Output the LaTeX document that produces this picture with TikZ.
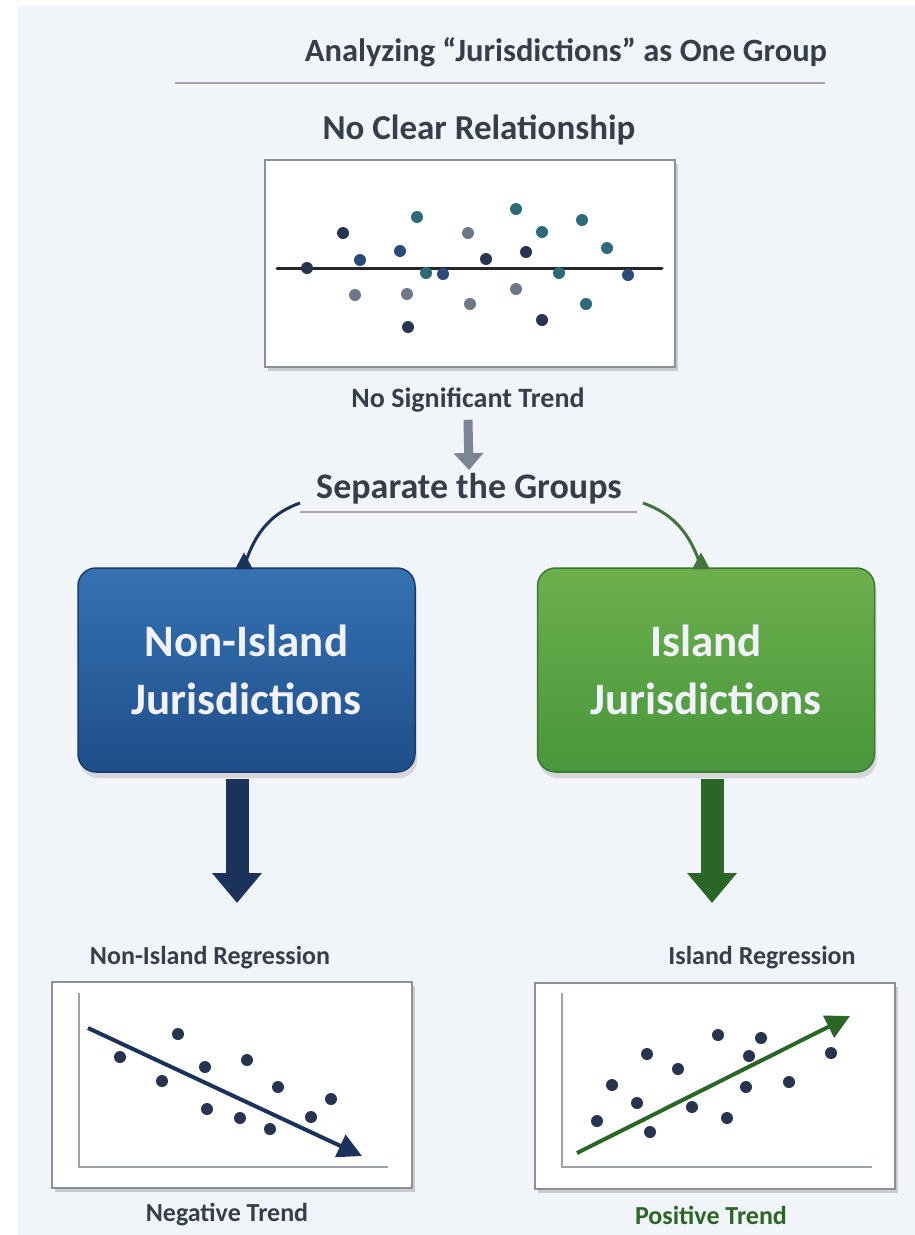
\documentclass[tikz,border=0pt]{standalone}
\usepackage{fontspec}
\setmainfont{Carlito}
\usepackage{xcolor}
\usepackage{tikz}
\usetikzlibrary{arrows.meta,shadows,positioning}

\definecolor{bgpage}{HTML}{F1F4F8}
\definecolor{inkgray}{HTML}{363D4B}
\definecolor{navy}{HTML}{1B325A}
\definecolor{dotnavy}{HTML}{26344F}
\definecolor{dotblue}{HTML}{2B4A7C}
\definecolor{dotteal}{HTML}{2D6B79}
\definecolor{dotgray}{HTML}{6C7787}
\definecolor{blueTop}{HTML}{3572B2}
\definecolor{blueBot}{HTML}{1F4E8A}
\definecolor{greenTop}{HTML}{6DAF4D}
\definecolor{greenBot}{HTML}{48973C}
\definecolor{darkgreen}{HTML}{2B6627}
\definecolor{framegray}{HTML}{8C9199}

\begin{document}
\begin{tikzpicture}[x=1pt,y=-1pt]
      \tikzstyle{plot_box}=[draw=framegray, line width=2.2pt, fill=white, inner sep=0pt,
        drop shadow={shadow xshift=3pt, shadow yshift=-4pt, opacity=0.35, fill=gray}]
      \tikzstyle{group_box}=[line width=1.5pt, rounded corners=18pt, inner sep=0pt,
        minimum width=337pt, minimum height=204pt, text=white!95!blue, align=center,
        font=\bfseries\fontsize{45}{58}\selectfont,
        drop shadow={shadow xshift=2pt, shadow yshift=-6pt, opacity=0.25, fill=gray}]
      \tikzstyle{head_text}=[text=inkgray, font=\bfseries\fontsize{36}{40}\selectfont]
      \tikzstyle{label_text}=[text=inkgray, font=\bfseries\fontsize{26}{30}\selectfont]
      \tikzstyle{axis_line}=[draw=framegray!85, line width=2.5pt]
      \tikzstyle{big_arrow}=[line width=23pt, -{Triangle[length=30pt,width=48pt]}]
      \tikzstyle{split_arrow}=[line width=3pt, -{Triangle[length=17pt,width=17pt]}]

      \useasboundingbox (0,0) rectangle (915,1235);
      \fill[bgpage] (18,6) rectangle (915,1235);

      % top: all jurisdictions together
      \node [head_text, font=\bfseries\fontsize{32.5}{38}\selectfont] (title) at (566,52) {Analyzing “Jurisdictions” as One Group};
      \draw [gray!70, line width=1.2pt] (175,83) -- (825,83);
      \node [head_text, font=\bfseries\fontsize{35}{40}\selectfont] (clear) at (479,130) {No Clear Relationship};
      \node [plot_box, minimum width=410pt, minimum height=207pt] (allplot) at (470,263.5) {};
      \draw [black!85, line width=3pt, line cap=round] (277,268) -- (662,268);
      \foreach \px/\py/\c in {307/268/dotnavy, 343/233/dotnavy, 360/260/dotblue, 355/295/dotgray,
          400/251/dotblue, 407/294/dotgray, 408/327/dotnavy, 417/217/dotteal, 426/273/dotteal,
          443/274/dotblue, 468/233/dotgray, 470/304/dotgray, 486/259/dotnavy, 516/209/dotteal,
          516/289/dotgray, 526/252/dotnavy, 542/232/dotteal, 542/320/dotnavy, 559/273/dotteal,
          582/220/dotteal, 586/304/dotteal, 607/248/dotteal, 628/275/dotblue}
        \fill [\c] (\px,\py) circle [radius=6pt];
      \node [label_text, font=\bfseries\fontsize{28}{32}\selectfont] (notrend) at (468,400) {No Significant Trend};

      % split
      \node [head_text] (separate) at (469,489) {Separate the Groups};
      \draw [gray!70, line width=1.2pt] (300,512) -- (637,512);
      \draw [-{Triangle[length=17pt,width=29pt]}, line width=9pt, draw=dotgray!90]
        (notrend.south) ++(0,4) coordinate (gtop) (gtop) -- (separate.north);
      \coordinate (lsplit) at (300,503);
      \coordinate (rsplit) at (643,503);
      \node [group_box, draw=blueBot!80!black, top color=blueTop, bottom color=blueBot]
        (nonisland) at (246.5,670) {Non-Island\\Jurisdictions};
      \node [group_box, draw=greenBot!80!black, top color=greenTop, bottom color=greenBot]
        (island) at (706,670) {Island\\Jurisdictions};
      \draw [split_arrow, navy]
        (lsplit) .. controls (275,512) and (256,528) .. (nonisland.north -| 244,0) ++(0,-15);
      \draw [split_arrow, darkgreen!90]
        (rsplit) .. controls (668,512) and (689,528) .. (island.north -| 701,0) ++(0,-15);

      % down to the separate regressions
      \coordinate (ntip) at (237,903);
      \coordinate (itip) at (712,903);
      \draw [big_arrow, navy] (nonisland.south -| ntip) ++(0,6) -- (ntip);
      \draw [big_arrow, darkgreen] (island.south -| itip) ++(0,6) -- (itip);

      % non-island regression
      \node [label_text] (nilabel) at (210,958) {Non-Island Regression};
      \node [plot_box, minimum width=360pt, minimum height=206pt] (niplot) at (232,1085) {};
      \draw [axis_line] (79,993) -- (79,1167) -- (388,1167);
      \foreach \px/\py in {120/1057, 178/1034, 162/1081, 205/1067, 207/1109, 247/1060,
          240/1118, 278/1087, 270/1129, 311/1117, 331/1099}
        \fill [dotnavy] (\px,\py) circle [radius=6pt];
      \draw [navy, line width=4pt, -{Triangle[length=24pt,width=24pt]}] (88,1028) -- (362,1156);
      \node [label_text] (negative) at (227,1215) {Negative Trend};

      % island regression
      \node [label_text] (ilabel) at (762,958) {Island Regression};
      \node [plot_box, minimum width=360pt, minimum height=206pt] (iplot) at (715,1086) {};
      \draw [axis_line] (562,993) -- (562,1167) -- (872,1167);
      \foreach \px/\py in {597/1121, 612/1085, 637/1103, 647/1054, 650/1132, 678/1069,
          692/1107, 718/1035, 727/1118, 746/1087, 749/1056, 761/1038, 789/1082, 831/1053}
        \fill [dotnavy] (\px,\py) circle [radius=6pt];
      \draw [darkgreen, line width=4pt, -{Triangle[length=24pt,width=24pt]}] (577,1153) -- (850,1016);
      \node [label_text, text=darkgreen] (positive) at (711,1215) {Positive Trend};

    \end{tikzpicture}
\end{document}
